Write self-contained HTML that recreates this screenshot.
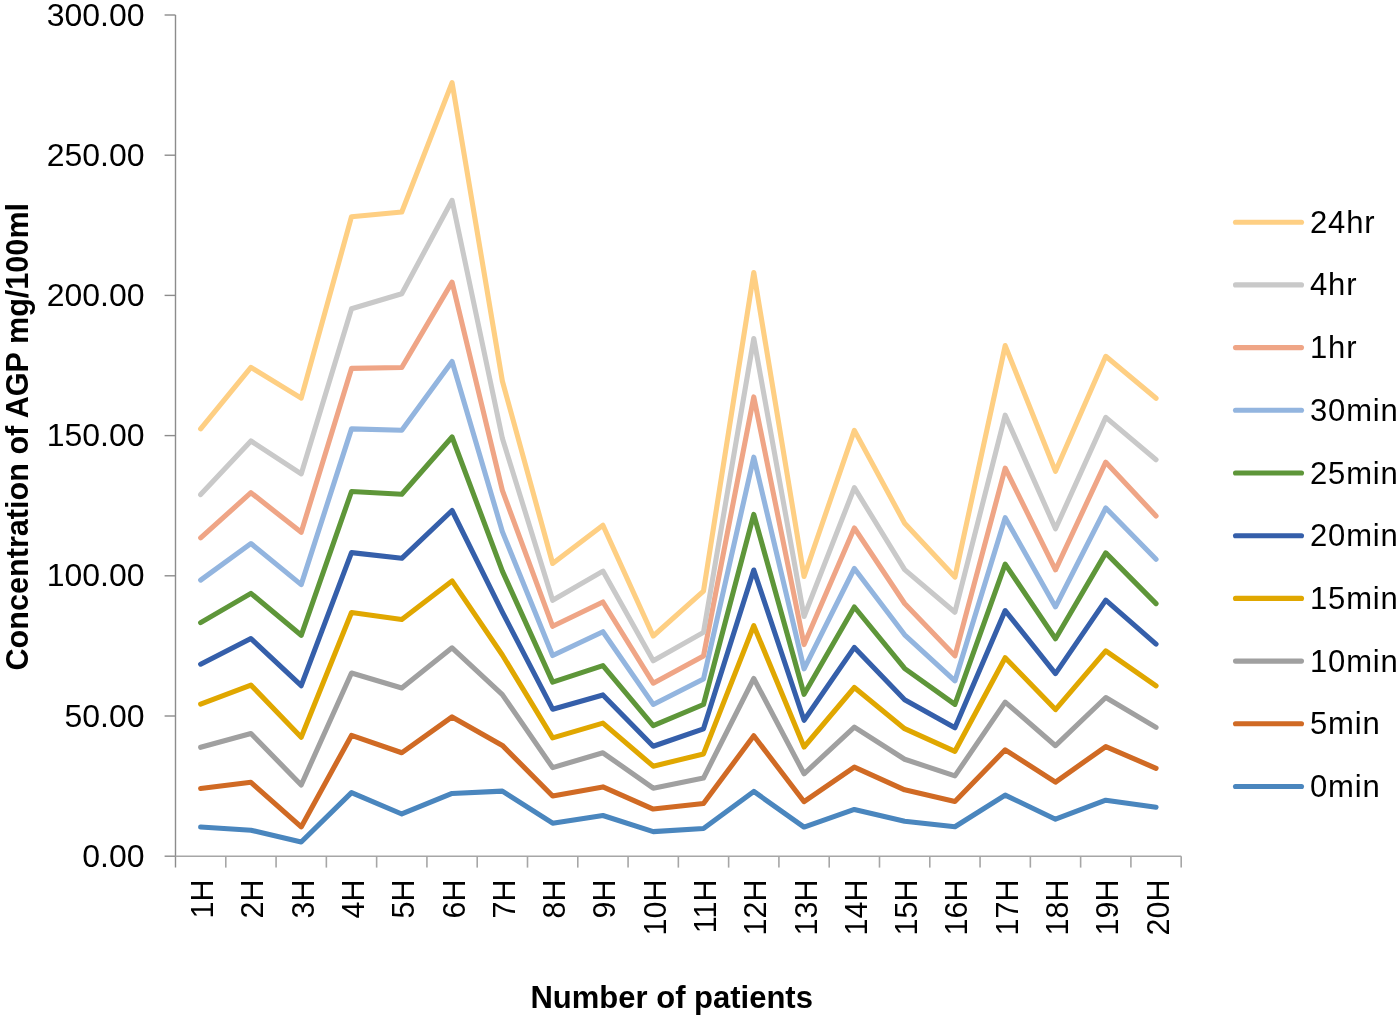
<!DOCTYPE html>
<html><head><meta charset="utf-8"><style>
html,body{margin:0;padding:0;background:#fff;}
body{width:1400px;height:1017px;overflow:hidden;}
svg{display:block;will-change:transform;}
text{font-family:"Liberation Sans",sans-serif;fill:#000;}
</style></head><body>
<svg width="1400" height="1017" viewBox="0 0 1400 1017">
<rect width="1400" height="1017" fill="#fff"/>

<line x1="175.5" y1="15" x2="175.5" y2="867.6" stroke="#8C8C8C" stroke-width="1.4"/>
<line x1="164.6" y1="856.20" x2="175.5" y2="856.20" stroke="#8C8C8C" stroke-width="1.4"/>
<line x1="164.6" y1="716.00" x2="175.5" y2="716.00" stroke="#8C8C8C" stroke-width="1.4"/>
<line x1="164.6" y1="575.80" x2="175.5" y2="575.80" stroke="#8C8C8C" stroke-width="1.4"/>
<line x1="164.6" y1="435.60" x2="175.5" y2="435.60" stroke="#8C8C8C" stroke-width="1.4"/>
<line x1="164.6" y1="295.40" x2="175.5" y2="295.40" stroke="#8C8C8C" stroke-width="1.4"/>
<line x1="164.6" y1="155.20" x2="175.5" y2="155.20" stroke="#8C8C8C" stroke-width="1.4"/>
<line x1="164.6" y1="15.00" x2="175.5" y2="15.00" stroke="#8C8C8C" stroke-width="1.4"/>
<line x1="175.5" y1="856.3" x2="1181.2" y2="856.3" stroke="#A6A6A6" stroke-width="1.6"/>
<line x1="225.78" y1="856.3" x2="225.78" y2="867.6" stroke="#A6A6A6" stroke-width="1.6"/>
<line x1="276.07" y1="856.3" x2="276.07" y2="867.6" stroke="#A6A6A6" stroke-width="1.6"/>
<line x1="326.36" y1="856.3" x2="326.36" y2="867.6" stroke="#A6A6A6" stroke-width="1.6"/>
<line x1="376.64" y1="856.3" x2="376.64" y2="867.6" stroke="#A6A6A6" stroke-width="1.6"/>
<line x1="426.93" y1="856.3" x2="426.93" y2="867.6" stroke="#A6A6A6" stroke-width="1.6"/>
<line x1="477.21" y1="856.3" x2="477.21" y2="867.6" stroke="#A6A6A6" stroke-width="1.6"/>
<line x1="527.50" y1="856.3" x2="527.50" y2="867.6" stroke="#A6A6A6" stroke-width="1.6"/>
<line x1="577.78" y1="856.3" x2="577.78" y2="867.6" stroke="#A6A6A6" stroke-width="1.6"/>
<line x1="628.07" y1="856.3" x2="628.07" y2="867.6" stroke="#A6A6A6" stroke-width="1.6"/>
<line x1="678.35" y1="856.3" x2="678.35" y2="867.6" stroke="#A6A6A6" stroke-width="1.6"/>
<line x1="728.63" y1="856.3" x2="728.63" y2="867.6" stroke="#A6A6A6" stroke-width="1.6"/>
<line x1="778.92" y1="856.3" x2="778.92" y2="867.6" stroke="#A6A6A6" stroke-width="1.6"/>
<line x1="829.21" y1="856.3" x2="829.21" y2="867.6" stroke="#A6A6A6" stroke-width="1.6"/>
<line x1="879.49" y1="856.3" x2="879.49" y2="867.6" stroke="#A6A6A6" stroke-width="1.6"/>
<line x1="929.78" y1="856.3" x2="929.78" y2="867.6" stroke="#A6A6A6" stroke-width="1.6"/>
<line x1="980.06" y1="856.3" x2="980.06" y2="867.6" stroke="#A6A6A6" stroke-width="1.6"/>
<line x1="1030.35" y1="856.3" x2="1030.35" y2="867.6" stroke="#A6A6A6" stroke-width="1.6"/>
<line x1="1080.63" y1="856.3" x2="1080.63" y2="867.6" stroke="#A6A6A6" stroke-width="1.6"/>
<line x1="1130.91" y1="856.3" x2="1130.91" y2="867.6" stroke="#A6A6A6" stroke-width="1.6"/>
<line x1="1181.20" y1="856.3" x2="1181.20" y2="867.6" stroke="#A6A6A6" stroke-width="1.6"/>
<text x="144.5" y="866.70" font-size="32" text-anchor="end">0.00</text>
<text x="144.5" y="726.50" font-size="32" text-anchor="end">50.00</text>
<text x="144.5" y="586.30" font-size="32" text-anchor="end">100.00</text>
<text x="144.5" y="446.10" font-size="32" text-anchor="end">150.00</text>
<text x="144.5" y="305.90" font-size="32" text-anchor="end">200.00</text>
<text x="144.5" y="165.70" font-size="32" text-anchor="end">250.00</text>
<text x="144.5" y="25.50" font-size="32" text-anchor="end">300.00</text>
<text transform="translate(213.14,879.5) rotate(-90) scale(0.953,1)" font-size="32" text-anchor="end">1H</text>
<text transform="translate(263.43,879.5) rotate(-90) scale(0.953,1)" font-size="32" text-anchor="end">2H</text>
<text transform="translate(313.71,879.5) rotate(-90) scale(0.953,1)" font-size="32" text-anchor="end">3H</text>
<text transform="translate(364.00,879.5) rotate(-90) scale(0.953,1)" font-size="32" text-anchor="end">4H</text>
<text transform="translate(414.28,879.5) rotate(-90) scale(0.953,1)" font-size="32" text-anchor="end">5H</text>
<text transform="translate(464.57,879.5) rotate(-90) scale(0.953,1)" font-size="32" text-anchor="end">6H</text>
<text transform="translate(514.85,879.5) rotate(-90) scale(0.953,1)" font-size="32" text-anchor="end">7H</text>
<text transform="translate(565.14,879.5) rotate(-90) scale(0.953,1)" font-size="32" text-anchor="end">8H</text>
<text transform="translate(615.42,879.5) rotate(-90) scale(0.953,1)" font-size="32" text-anchor="end">9H</text>
<text transform="translate(665.71,879.5) rotate(-90) scale(0.953,1)" font-size="32" text-anchor="end">10H</text>
<text transform="translate(715.99,879.5) rotate(-90) scale(0.953,1)" font-size="32" text-anchor="end">11H</text>
<text transform="translate(766.28,879.5) rotate(-90) scale(0.953,1)" font-size="32" text-anchor="end">12H</text>
<text transform="translate(816.56,879.5) rotate(-90) scale(0.953,1)" font-size="32" text-anchor="end">13H</text>
<text transform="translate(866.85,879.5) rotate(-90) scale(0.953,1)" font-size="32" text-anchor="end">14H</text>
<text transform="translate(917.13,879.5) rotate(-90) scale(0.953,1)" font-size="32" text-anchor="end">15H</text>
<text transform="translate(967.42,879.5) rotate(-90) scale(0.953,1)" font-size="32" text-anchor="end">16H</text>
<text transform="translate(1017.70,879.5) rotate(-90) scale(0.953,1)" font-size="32" text-anchor="end">17H</text>
<text transform="translate(1067.99,879.5) rotate(-90) scale(0.953,1)" font-size="32" text-anchor="end">18H</text>
<text transform="translate(1118.27,879.5) rotate(-90) scale(0.953,1)" font-size="32" text-anchor="end">19H</text>
<text transform="translate(1168.56,879.5) rotate(-90) scale(0.953,1)" font-size="32" text-anchor="end">20H</text>
<polyline points="200.64,827.00 250.93,830.25 301.21,842.02 351.50,792.61 401.78,813.98 452.07,793.45 502.35,791.17 552.64,823.22 602.92,815.55 653.21,831.58 703.49,828.48 753.78,791.43 804.06,827.05 854.35,809.44 904.63,821.23 954.92,826.78 1005.20,795.08 1055.49,819.20 1105.77,800.20 1156.06,807.20" fill="none" stroke="#4A86BE" stroke-width="5.1" stroke-linejoin="round" stroke-linecap="round"/>
<polyline points="200.64,788.50 250.93,782.34 301.21,826.90 351.50,735.40 401.78,752.74 452.07,716.94 502.35,745.41 552.64,795.98 602.92,786.92 653.21,809.05 703.49,803.45 753.78,735.80 804.06,801.70 854.35,767.17 904.63,789.80 954.92,801.45 1005.20,749.80 1055.49,782.09 1105.77,746.56 1156.06,768.30" fill="none" stroke="#D06A24" stroke-width="5.1" stroke-linejoin="round" stroke-linecap="round"/>
<polyline points="200.64,747.30 250.93,733.51 301.21,785.00 351.50,673.00 401.78,688.05 452.07,647.80 502.35,694.67 552.64,767.58 602.92,752.81 653.21,788.14 703.49,778.05 753.78,678.50 804.06,773.80 854.35,727.10 904.63,759.26 954.92,775.90 1005.20,702.10 1055.49,745.70 1105.77,697.50 1156.06,727.40" fill="none" stroke="#A0A0A0" stroke-width="5.1" stroke-linejoin="round" stroke-linecap="round"/>
<polyline points="200.64,704.10 250.93,685.11 301.21,737.20 351.50,612.50 401.78,619.43 452.07,580.90 502.35,654.96 552.64,737.90 602.92,723.11 653.21,766.18 703.49,753.91 753.78,625.70 804.06,747.00 854.35,687.50 904.63,728.68 954.92,751.30 1005.20,657.70 1055.49,709.60 1105.77,650.80 1156.06,685.80" fill="none" stroke="#E0A700" stroke-width="5.1" stroke-linejoin="round" stroke-linecap="round"/>
<polyline points="200.64,664.20 250.93,638.55 301.21,685.70 351.50,552.60 401.78,558.31 452.07,510.50 502.35,612.03 552.64,709.20 602.92,694.93 653.21,746.28 703.49,728.79 753.78,570.00 804.06,720.30 854.35,647.40 904.63,699.82 954.92,727.80 1005.20,610.60 1055.49,673.60 1105.77,600.10 1156.06,644.10" fill="none" stroke="#355FAA" stroke-width="5.1" stroke-linejoin="round" stroke-linecap="round"/>
<polyline points="200.64,622.60 250.93,593.35 301.21,635.30 351.50,491.50 401.78,494.23 452.07,437.00 502.35,571.08 552.64,682.10 602.92,665.60 653.21,725.60 703.49,704.48 753.78,514.40 804.06,694.30 854.35,607.00 904.63,668.48 954.92,704.40 1005.20,564.10 1055.49,638.70 1105.77,552.90 1156.06,603.60" fill="none" stroke="#5E9639" stroke-width="5.1" stroke-linejoin="round" stroke-linecap="round"/>
<polyline points="200.64,580.10 250.93,543.50 301.21,584.60 351.50,428.90 401.78,430.19 452.07,361.50 502.35,531.61 552.64,655.50 602.92,631.70 653.21,704.40 703.49,678.94 753.78,457.20 804.06,668.80 854.35,568.50 904.63,634.79 954.92,680.90 1005.20,517.70 1055.49,606.90 1105.77,508.00 1156.06,559.30" fill="none" stroke="#93B5DF" stroke-width="5.1" stroke-linejoin="round" stroke-linecap="round"/>
<polyline points="200.64,537.90 250.93,492.70 301.21,532.30 351.50,368.42 401.78,367.52 452.07,282.10 502.35,490.43 552.64,626.30 602.92,602.00 653.21,683.20 703.49,655.94 753.78,396.90 804.06,644.60 854.35,528.00 904.63,603.49 954.92,655.80 1005.20,468.20 1055.49,569.80 1105.77,462.20 1156.06,516.00" fill="none" stroke="#EFA586" stroke-width="5.1" stroke-linejoin="round" stroke-linecap="round"/>
<polyline points="200.64,494.60 250.93,441.00 301.21,473.90 351.50,308.79 401.78,293.69 452.07,200.30 502.35,438.30 552.64,600.30 602.92,571.10 653.21,660.80 703.49,632.35 753.78,338.50 804.06,616.50 854.35,487.70 904.63,569.64 954.92,612.20 1005.20,415.20 1055.49,528.80 1105.77,417.40 1156.06,459.70" fill="none" stroke="#C9C9C9" stroke-width="5.1" stroke-linejoin="round" stroke-linecap="round"/>
<polyline points="200.64,428.80 250.93,367.30 301.21,398.10 351.50,216.67 401.78,212.02 452.07,82.70 502.35,381.01 552.64,563.50 602.92,525.20 653.21,636.00 703.49,591.03 753.78,272.50 804.06,576.50 854.35,430.40 904.63,523.27 954.92,577.10 1005.20,345.60 1055.49,471.30 1105.77,356.30 1156.06,398.30" fill="none" stroke="#FECF83" stroke-width="5.1" stroke-linejoin="round" stroke-linecap="round"/>
<line x1="1235.5" y1="222.20" x2="1301.5" y2="222.20" stroke="#FECF83" stroke-width="5.1" stroke-linecap="round"/>
<text x="1310" y="232.70" font-size="31" letter-spacing="0.85">24hr</text>
<line x1="1235.5" y1="284.90" x2="1301.5" y2="284.90" stroke="#C9C9C9" stroke-width="5.1" stroke-linecap="round"/>
<text x="1310" y="295.40" font-size="31" letter-spacing="0.85">4hr</text>
<line x1="1235.5" y1="347.60" x2="1301.5" y2="347.60" stroke="#EFA586" stroke-width="5.1" stroke-linecap="round"/>
<text x="1310" y="358.10" font-size="31" letter-spacing="0.85">1hr</text>
<line x1="1235.5" y1="410.30" x2="1301.5" y2="410.30" stroke="#93B5DF" stroke-width="5.1" stroke-linecap="round"/>
<text x="1310" y="420.80" font-size="31" letter-spacing="0.85">30min</text>
<line x1="1235.5" y1="473.00" x2="1301.5" y2="473.00" stroke="#5E9639" stroke-width="5.1" stroke-linecap="round"/>
<text x="1310" y="483.50" font-size="31" letter-spacing="0.85">25min</text>
<line x1="1235.5" y1="535.70" x2="1301.5" y2="535.70" stroke="#355FAA" stroke-width="5.1" stroke-linecap="round"/>
<text x="1310" y="546.20" font-size="31" letter-spacing="0.85">20min</text>
<line x1="1235.5" y1="598.40" x2="1301.5" y2="598.40" stroke="#E0A700" stroke-width="5.1" stroke-linecap="round"/>
<text x="1310" y="608.90" font-size="31" letter-spacing="0.85">15min</text>
<line x1="1235.5" y1="661.10" x2="1301.5" y2="661.10" stroke="#A0A0A0" stroke-width="5.1" stroke-linecap="round"/>
<text x="1310" y="671.60" font-size="31" letter-spacing="0.85">10min</text>
<line x1="1235.5" y1="723.80" x2="1301.5" y2="723.80" stroke="#D06A24" stroke-width="5.1" stroke-linecap="round"/>
<text x="1310" y="734.30" font-size="31" letter-spacing="0.85">5min</text>
<line x1="1235.5" y1="786.50" x2="1301.5" y2="786.50" stroke="#4A86BE" stroke-width="5.1" stroke-linecap="round"/>
<text x="1310" y="797.00" font-size="31" letter-spacing="0.85">0min</text>
<text id="ytitle" transform="translate(27.8,436.7) rotate(-90) scale(0.957,1)" font-size="32" font-weight="bold" text-anchor="middle">Concentration of AGP mg/100ml</text>
<text id="xtitle" x="671.7" y="1007.6" font-size="31" font-weight="bold" text-anchor="middle">Number of patients</text>
</svg>
</body></html>
